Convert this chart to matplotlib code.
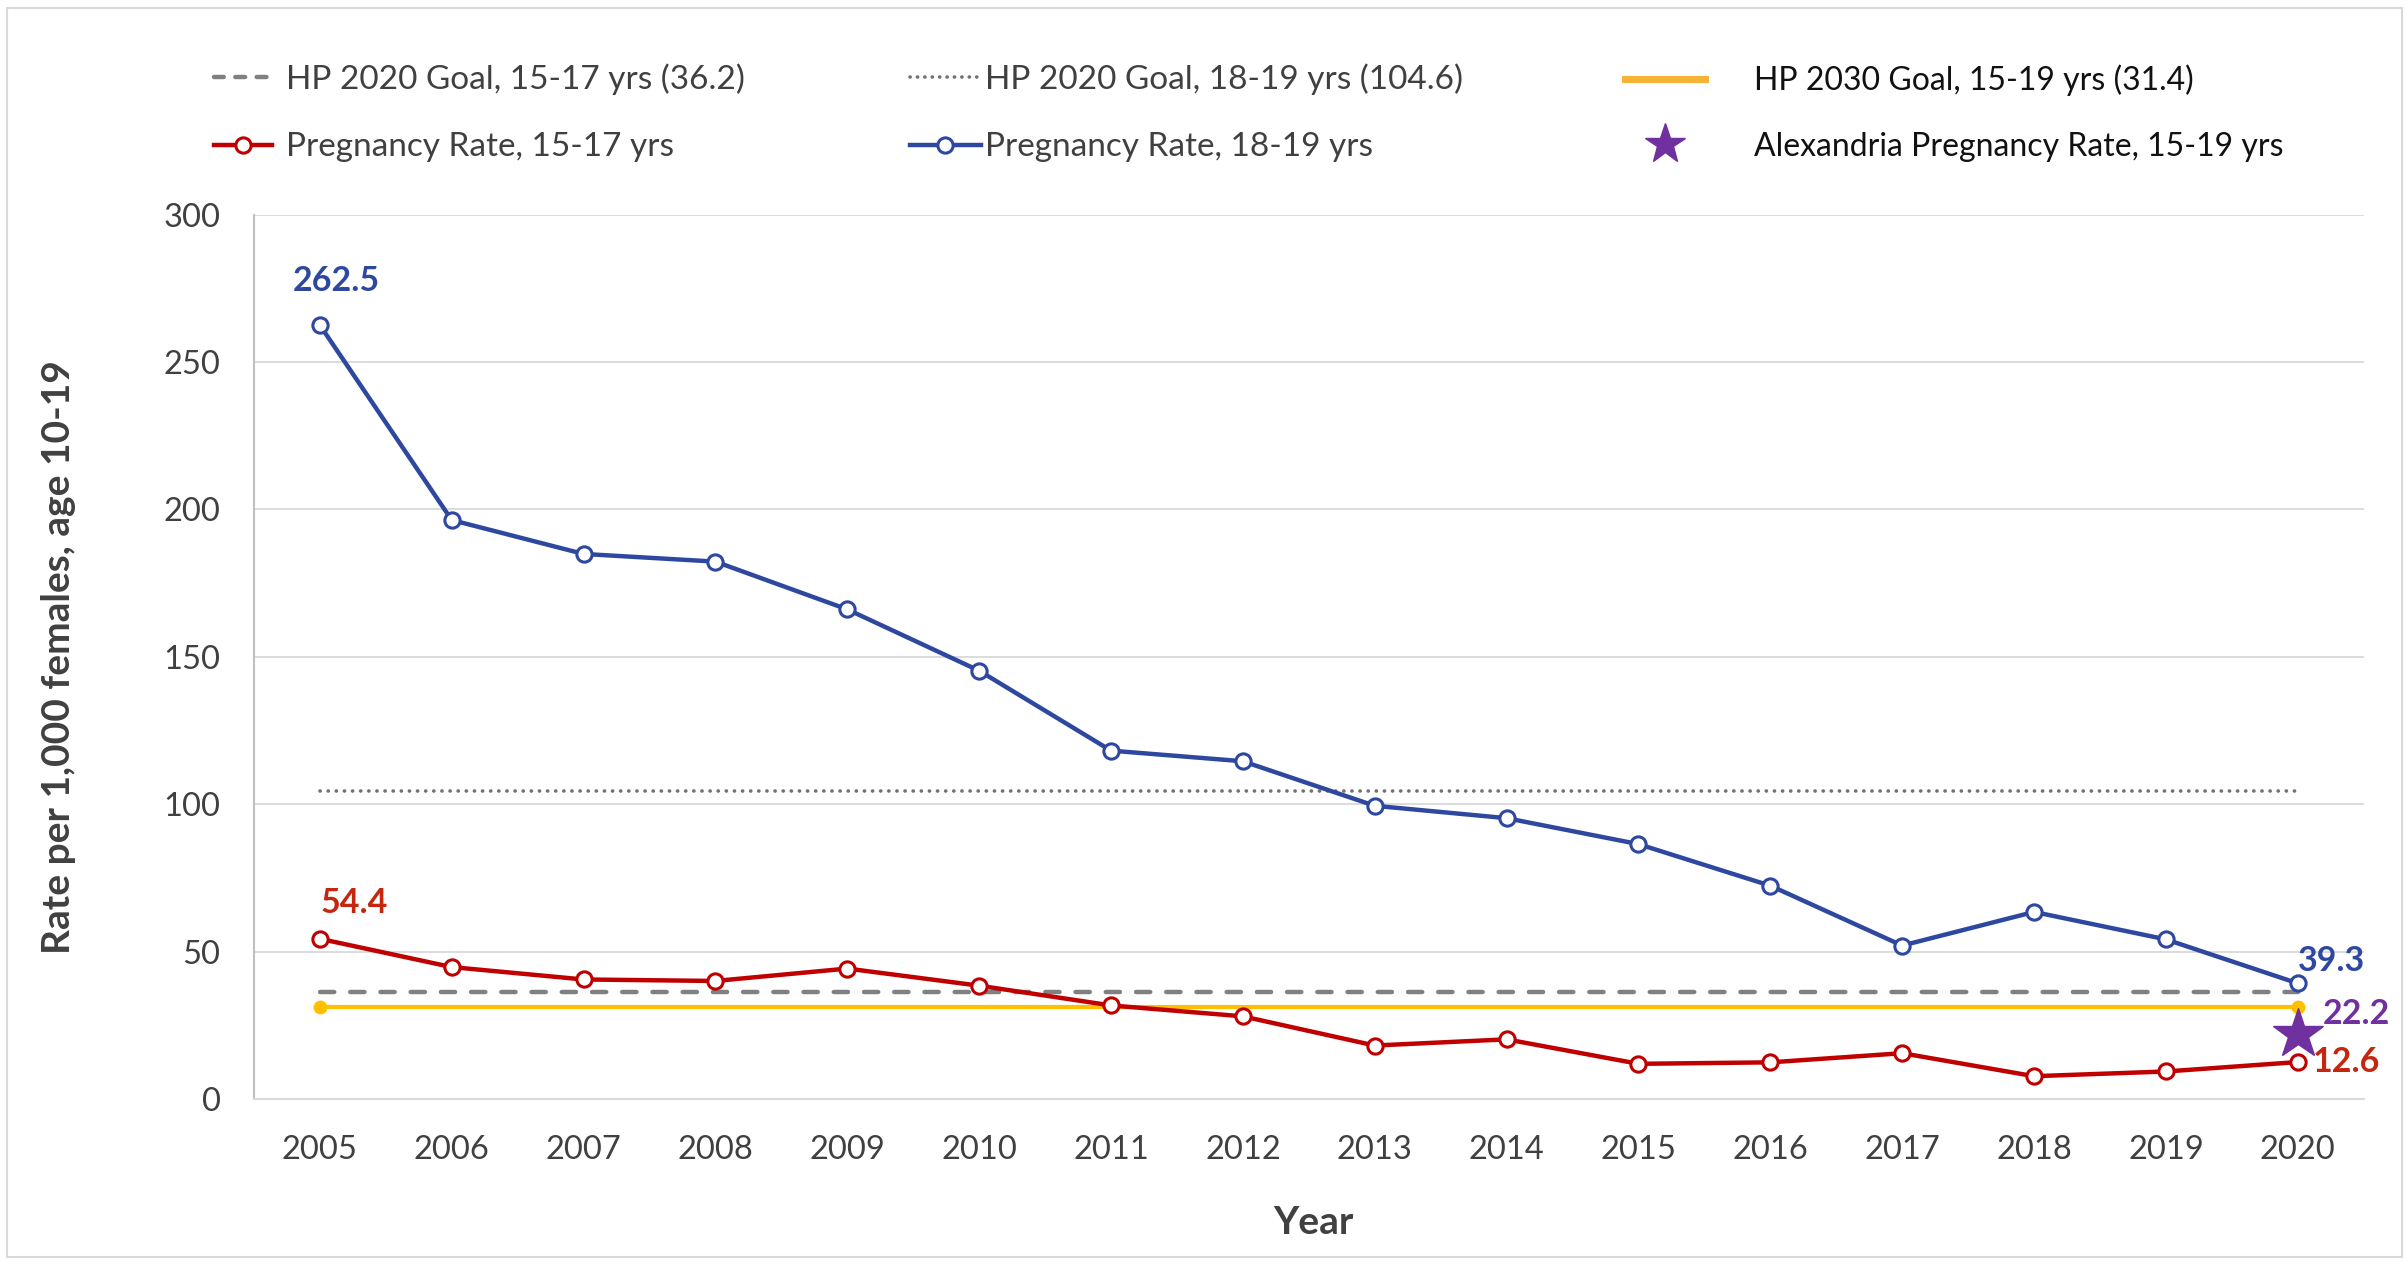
import numpy as np
import matplotlib
matplotlib.use("Agg")
import matplotlib.pyplot as plt
from matplotlib.lines import Line2D
from matplotlib.patches import Rectangle

plt.rcParams['font.family'] = ['Lato', 'DejaVu Sans']

years = list(range(2005, 2021))
rate_18_19 = [262.5, 196.4, 184.9, 182.3, 166.1, 145.3, 118.2, 114.6, 99.5, 95.3,
              86.5, 72.4, 52.1, 63.5, 54.2, 39.3]
rate_15_17 = [54.4, 44.8, 40.6, 40.1, 44.3, 38.5, 31.8, 28.1, 18.2, 20.3,
              12.0, 12.5, 15.6, 7.8, 9.4, 12.6]
goal_2020_15_17 = 36.2
goal_2020_18_19 = 104.6
goal_2030_15_19 = 31.4
alexandria_year = 2020
alexandria_rate = 22.2

BLUE = '#2E48A0'
RED = '#C00000'
RED_LABEL = '#C5260E'
GOLD = '#FFC000'
PURPLE = '#7030A0'
GRAY = '#808080'
DOT = '#767171'
TXT = '#404040'

fig = plt.figure(figsize=(24.07, 12.62), dpi=100)
ax = fig.add_axes([0.1055, 0.129, 0.8765, 0.701])

# goal lines
x_ends = [years[0], years[-1]]
dash = (0, (3.2, 3.6))
dots = (0, (0.05, 2.2))
ax.plot(x_ends, [goal_2020_15_17] * 2, color=GRAY, lw=3.2, ls=dash,
        dash_capstyle='round', zorder=2)
ax.plot(x_ends, [goal_2020_18_19] * 2, color=DOT, lw=2.6, ls=dots,
        dash_capstyle='round', zorder=2)
ax.plot(x_ends, [goal_2030_15_19] * 2, color=GOLD, lw=3, marker='o', ms=9,
        zorder=3)

# rate series
ax.plot(years, rate_15_17, color=RED, lw=3.2, marker='o', ms=11,
        mfc='white', mec=RED, mew=2.2, zorder=4)
ax.plot(years, rate_18_19, color=BLUE, lw=3.2, marker='o', ms=11,
        mfc='white', mec=BLUE, mew=2.2, zorder=4)
ax.plot([alexandria_year], [alexandria_rate], marker='*', ms=38, color=PURPLE,
        ls='none', zorder=5)

# data labels
lab_kw = dict(textcoords='offset points', fontsize=24.5, fontweight='bold')
ax.annotate(f"{rate_18_19[0]}", (years[0], rate_18_19[0]), xytext=(12, 20),
            ha='center', va='bottom', color=BLUE, **lab_kw)
ax.annotate(f"{rate_15_17[0]}", (years[0], rate_15_17[0]), xytext=(25, 14),
            ha='center', va='bottom', color=RED_LABEL, **lab_kw)
ax.annotate(f"{rate_18_19[-1]}", (years[-1], rate_18_19[-1]), xytext=(0, 16),
            ha='left', va='center', color=BLUE, **lab_kw)
ax.annotate(f"{alexandria_rate}", (alexandria_year, alexandria_rate), xytext=(18, 14),
            ha='left', va='center', color=PURPLE, **lab_kw)
ax.annotate(f"{rate_15_17[-1]}", (years[-1], rate_15_17[-1]), xytext=(11, 0),
            ha='left', va='center', color=RED_LABEL, **lab_kw)

ax.set_xlim(2004.5, 2020.5)
ax.set_ylim(0, 300)
ax.set_xticks(years)
ax.set_yticks(range(0, 301, 50))
ax.tick_params(axis='both', length=0, labelsize=23.5, labelcolor=TXT)
ax.tick_params(axis='x', pad=26)
ax.tick_params(axis='y', pad=24)
ax.grid(axis='y', color='#D9D9D9', lw=1.3)
ax.set_axisbelow(True)
for s in ['top', 'right']:
    ax.spines[s].set_visible(False)
ax.spines['left'].set_color('#BFBFBF')
ax.spines['bottom'].set_color('#D9D9D9')
ax.spines['left'].set_linewidth(1.5)
ax.spines['bottom'].set_linewidth(1.5)

ax.set_xlabel("Year", fontsize=28, fontweight='bold', color=TXT)
ax.xaxis.set_label_coords(0.502, -0.1195)
ax.set_ylabel("Rate per 1,000 females, age 10-19", fontsize=28,
              fontweight='bold', color=TXT)
ax.yaxis.set_label_coords(-0.0845, 0.5)

# legend: three columns placed one by one
leg_y = 0.9105
leg_kw = dict(loc='center left', frameon=False, borderpad=0, labelspacing=1.12)
col1 = [
    Line2D([], [], color=GRAY, lw=3.2, ls=(0, (2.2, 2.6)), dash_capstyle='round'),
    Line2D([], [], color=RED, lw=3.2, marker='o', ms=11, mfc='white', mec=RED, mew=2.2),
]
fig.legend(col1, ["HP 2020 Goal, 15-17 yrs (36.2)", "Pregnancy Rate, 15-17 yrs"],
           bbox_to_anchor=(0.082, leg_y), fontsize=24, labelcolor=TXT,
           handlelength=1.75, handletextpad=0.4, **leg_kw)

col2 = [
    Line2D([], [], color=DOT, lw=2.6, ls=(0, (0.05, 2.0)), dash_capstyle='round'),
    Line2D([], [], color=BLUE, lw=3.2, marker='o', ms=11, mfc='white', mec=BLUE, mew=2.2),
]
fig.legend(col2, ["HP 2020 Goal, 18-19 yrs (104.6)", "Pregnancy Rate, 18-19 yrs"],
           bbox_to_anchor=(0.371, leg_y), fontsize=24, labelcolor=TXT,
           handlelength=2.15, handletextpad=0.12, **leg_kw)

col3 = [
    Line2D([], [], color='#F7B234', lw=5),
    Line2D([], [], color=PURPLE, marker='*', ms=30, ls='none'),
]
fig.legend(col3, ["HP 2030 Goal, 15-19 yrs (31.4)", "Alexandria Pregnancy Rate, 15-19 yrs"],
           bbox_to_anchor=(0.6685, leg_y), fontsize=23, labelcolor='#111111',
           handlelength=2.5, handletextpad=1.55, **leg_kw)

fig.patches.append(Rectangle((0.003, 0.004), 0.995, 0.99, transform=fig.transFigure,
                             fill=False, edgecolor='#D9D9D9', lw=1.5))

fig.savefig("out.png", dpi=100)
